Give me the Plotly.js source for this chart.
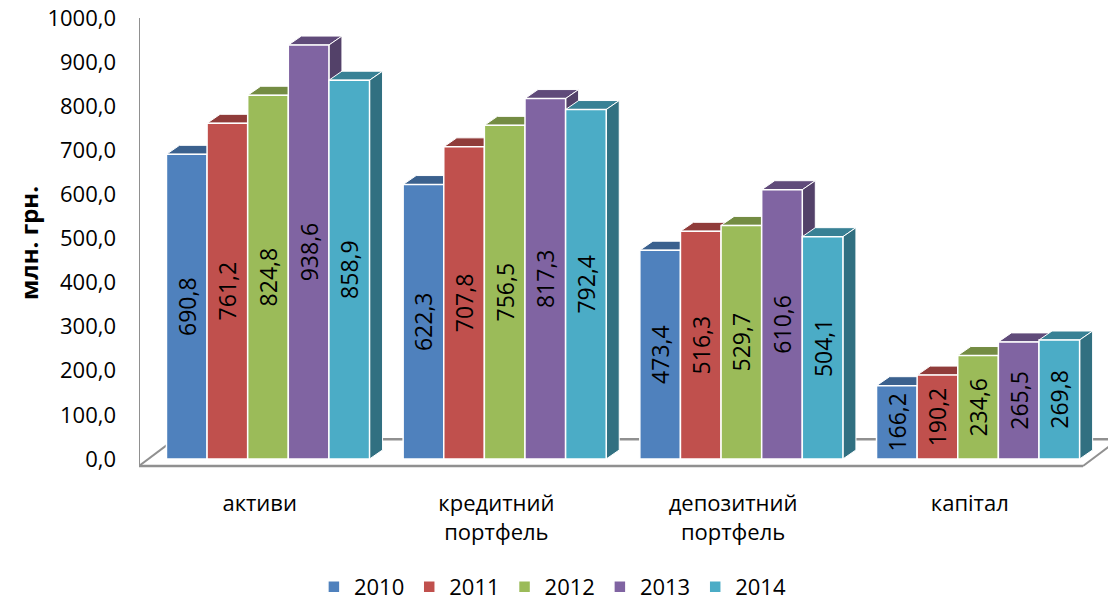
<!DOCTYPE html>
<html><head><meta charset="utf-8">
<script src="https://cdn.plot.ly/plotly-3.0.1.min.js"></script>
<style>html,body{margin:0;padding:0;background:#fff}#chart{width:1108px;height:602px}</style>
</head><body><div id="chart"></div>
<script>
const categories = ['активи', 'кредитний<br>портфель', 'депозитний<br>портфель', 'капітал'];
const years = ['2010', '2011', '2012', '2013', '2014'];
const v2010 = [690.8, 622.3, 473.4, 166.2];
const v2011 = [761.2, 707.8, 516.3, 190.2];
const v2012 = [824.8, 756.5, 529.7, 234.6];
const v2013 = [938.6, 817.3, 610.6, 265.5];
const v2014 = [858.9, 792.4, 504.1, 269.8];
const yTicks = [0, 100, 200, 300, 400, 500, 600, 700, 800, 900, 1000];
const yTitle = 'млн. грн.';

const series = [v2010, v2011, v2012, v2013, v2014];
const colors = ['#4f81bd', '#c0504d', '#9bbb59', '#8064a2', '#4bacc6'];
const FONT = '"Open Sans", "Noto Sans", sans-serif';

function shade(hex, f) {
  const n = parseInt(hex.slice(1), 16);
  const r = Math.round(((n >> 16) & 255) * f), g = Math.round(((n >> 8) & 255) * f), b = Math.round((n & 255) * f);
  return 'rgb(' + r + ',' + g + ',' + b + ')';
}

const xs = categories.map((c, i) => i);
const bargap = 0.142;
const barW = (1 - bargap) / series.length;
const xRange = [-0.545, 3.549];
const yRange = [-25, 1004.5];
// depth of the pseudo-3D faces, in axis units
const DX = 0.055, DY = 20.4;
// category labels sit slightly left of the group centre in the 3D view
const LABEL_SHIFT = -0.035;

const traces = series.map((vals, j) => ({
  type: 'bar', name: years[j], x: xs, y: vals,
  marker: {color: colors[j], line: {color: '#ffffff', width: 1.5}},
  texttemplate: '%{y:.1f}', textposition: 'inside', insidetextanchor: 'middle',
  textangle: -90, insidetextfont: {color: '#000000', size: 23, family: FONT},
  hoverinfo: 'skip'
}));

const shapes = [];
// floor
const floorFront = -15.9, floorBack = 45;
const fdx = 0.1014, fdy = 40.8;
const xL = xRange[0], xR = 3.4436;
const kL = (floorBack - floorFront) / fdy;
shapes.push({type: 'line', layer: 'below', xref: 'x', yref: 'y', x0: xL + fdx * kL, y0: floorBack, x1: xR + fdx * kL, y1: floorBack, line: {color: '#909090', width: 2.5}});
shapes.push({type: 'line', layer: 'below', xref: 'x', yref: 'y', x0: xL, y0: floorFront, x1: xL + fdx * kL, y1: floorBack, line: {color: '#909090', width: 2}});
shapes.push({type: 'line', layer: 'below', xref: 'x', yref: 'y', x0: xR, y0: floorFront, x1: xR + fdx * kL, y1: floorBack, line: {color: '#909090', width: 2}});
shapes.push({type: 'line', layer: 'below', xref: 'x', yref: 'y', x0: xL, y0: floorFront, x1: xR, y1: floorFront, line: {color: '#909090', width: 2.5}});
// y axis line
shapes.push({type: 'line', layer: 'below', xref: 'x', yref: 'y', x0: xL, y0: floorFront, x1: xL, y1: 1000, line: {color: '#909090', width: 2}});

// top and side faces of each bar
xs.forEach(i => {
  series.forEach((vals, j) => {
    const v = vals[i];
    const l = i - (1 - bargap) / 2 + j * barW, r = l + barW;
    shapes.push({type: 'path', layer: 'below', xref: 'x', yref: 'y',
      path: `M${l},${v} L${l + DX},${v + DY} L${r + DX},${v + DY} L${r},${v} Z`,
      fillcolor: shade(colors[j], 0.75), line: {color: '#ffffff', width: 1}});
    shapes.push({type: 'path', layer: 'below', xref: 'x', yref: 'y',
      path: `M${r},${v} L${r + DX},${v + DY} L${r + DX},${DY} L${r},0 Z`,
      fillcolor: shade(colors[j], 0.65), line: {color: '#ffffff', width: 1}});
  });
});

const layout = {
  width: 1108, height: 602,
  margin: {l: 139, r: 0, t: 16, b: 132},
  paper_bgcolor: '#ffffff', plot_bgcolor: 'rgba(0,0,0,0)',
  separators: ', ',
  barmode: 'group', bargap: bargap, bargroupgap: 0,
  font: {family: FONT, color: '#000000', size: 20},
  xaxis: {type: 'linear', range: xRange, tickvals: xs.map(i => i + LABEL_SHIFT), ticktext: categories,
    showgrid: false, zeroline: false, showline: false, ticks: '',
    tickfont: {size: 22}, ticklabelstandoff: 18},
  yaxis: {range: yRange, tickvals: yTicks, tickformat: '.1f',
    showgrid: false, zeroline: false, showline: false, ticks: '',
    tickfont: {size: 22}, ticklabelstandoff: 22,
    title: {text: '<b>' + yTitle + '</b>', font: {size: 24}, standoff: 2}},
  legend: {orientation: 'h', xref: 'container', yref: 'container', x: 0.499, xanchor: 'center',
    y: 0.025, yanchor: 'middle', font: {size: 22}, traceorder: 'normal'},
  shapes: shapes,
  showlegend: true
};

Plotly.newPlot('chart', traces, layout, {displayModeBar: false, staticPlot: true});
</script></body></html>
